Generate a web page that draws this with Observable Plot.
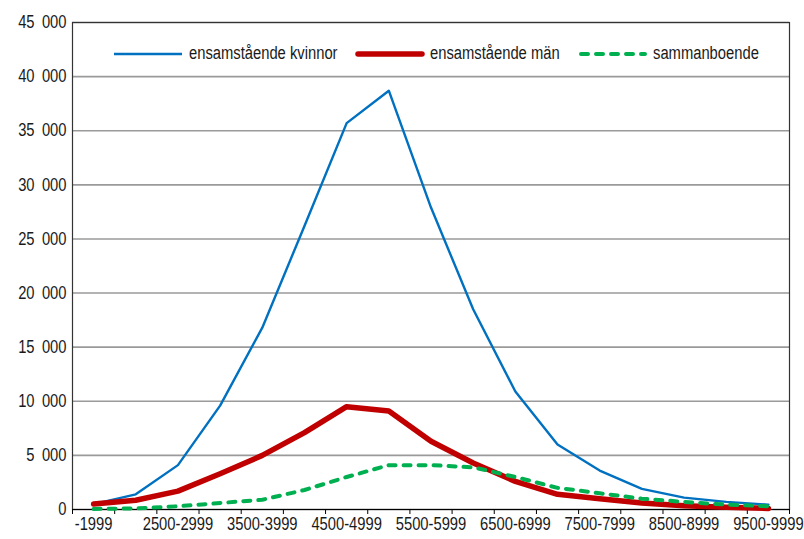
<!DOCTYPE html>
<html>
<head>
<meta charset="utf-8">
<script src="https://cdn.jsdelivr.net/npm/d3@7"></script>
<script src="https://cdn.jsdelivr.net/npm/@observablehq/plot@0.6"></script>
<style>
  html, body { margin: 0; padding: 0; background: #fff; }
  #wrap { position: relative; width: 804px; height: 539px; font-family: "Liberation Sans", Arial, sans-serif; }
  .leg { position: absolute; top: 43px; display: flex; align-items: center; font-size: 18px; color: #1a1a1a; white-space: nowrap; }
  .leg svg { margin-right: 5px; flex: none; }
  .leg span { display: inline-block; transform: scaleX(0.82); transform-origin: left center; }
</style>
</head>
<body>
<div id="wrap"></div>
<script>
const categories = ["-1999","2000-2499","2500-2999","3000-3499","3500-3999","4000-4499","4500-4999","5000-5499","5500-5999","6000-6499","6500-6999","7000-7499","7500-7999","8000-8499","8500-8999","9000-9499","9500-9999"];
const kvinnor = [500, 1400, 4100, 9600, 16800, 26200, 35700, 38700, 27900, 18500, 10900, 6000, 3600, 1900, 1100, 700, 450];
const man = [500, 850, 1700, 3300, 5000, 7100, 9500, 9100, 6300, 4300, 2600, 1400, 1000, 600, 350, 200, 100];
const sammanboende = [50, 100, 300, 600, 900, 1800, 3000, 4100, 4100, 3900, 3000, 2000, 1500, 1000, 700, 450, 300];
const yTicks = [0, 5000, 10000, 15000, 20000, 25000, 30000, 35000, 40000, 45000];
const seriesNames = ["ensamstående kvinnor", "ensamstående män", "sammanboende"];
const colors = ["#0070C0", "#C00000", "#00B050"];

const rows = categories.map((c, i) => ({cat: c, x: i + 0.5, k: kvinnor[i], m: man[i], s: sammanboende[i]}));
const fmt = d => d3.format(",")(d).replace(/,/g, "\u2002");
const SX = 0.82;

const chart = Plot.plot({
  width: 804,
  height: 539,
  marginLeft: 72,
  marginRight: 15,
  marginTop: 22,
  marginBottom: 30,
  style: {fontFamily: '"Liberation Sans", Arial, sans-serif', fontSize: "18px", color: "#1a1a1a", background: "#fff", overflow: "visible"},
  x: {type: "linear", domain: [0, categories.length], label: null},
  y: {domain: [0, 45000], label: null},
  marks: [
    Plot.gridY(yTicks, {stroke: "#9a9a9a", strokeOpacity: 1, strokeWidth: 1.6}),
    Plot.frame({stroke: "#333", strokeWidth: 1.2}),
    Plot.axisY(yTicks, {tickSize: 0, tickPadding: 6, tickFormat: fmt, label: null}),
    Plot.axisX(d3.range(categories.length + 1), {tickSize: 5, tickFormat: () => "", stroke: "#000", label: null}),
    Plot.axisX(d3.range(0, categories.length, 2).map(i => i + 0.5), {tickSize: 0, tickPadding: 8, tickFormat: d => categories[Math.floor(d)], label: null}),
    Plot.ruleY([0], {stroke: "#000", strokeWidth: 1.2}),
    Plot.line(rows, {x: "x", y: "k", stroke: colors[0], strokeWidth: 2.4}),
    Plot.line(rows, {x: "x", y: "m", stroke: colors[1], strokeWidth: 5.5}),
    Plot.line(rows, {x: "x", y: "s", stroke: colors[2], strokeWidth: 4, strokeDasharray: "7,8", strokeLinecap: "round"})
  ]
});

// condense axis text horizontally (narrow typeface look), keeping anchor positions
chart.querySelectorAll("text").forEach(el => {
  const t = el.getAttribute("transform") || "";
  const xa = el.getAttribute("x");
  if (xa != null && /^-?[\d.]+$/.test(xa.trim())) el.setAttribute("x", (+xa) / SX);
  el.setAttribute("transform", `${t} scale(${SX},1)`);
});

const wrap = document.getElementById("wrap");
wrap.appendChild(chart);

const legendPos = [114, 355, 578];
const widths = [2.4, 5.5, 4];
seriesNames.forEach((name, i) => {
  const d = document.createElement("div");
  d.className = "leg";
  d.style.left = legendPos[i] + "px";
  const dash = i === 2 ? 'stroke-dasharray="7,8" stroke-linecap="round"' : (i === 1 ? 'stroke-linecap="round"' : '');
  d.innerHTML = `<svg width="70" height="20"><line x1="${i===0?0:3}" x2="${i===0?68:67}" y1="10" y2="10" stroke="${colors[i]}" stroke-width="${widths[i]}" ${dash}/></svg><span>${name}</span>`;
  wrap.appendChild(d);
});
</script>
</body>
</html>
